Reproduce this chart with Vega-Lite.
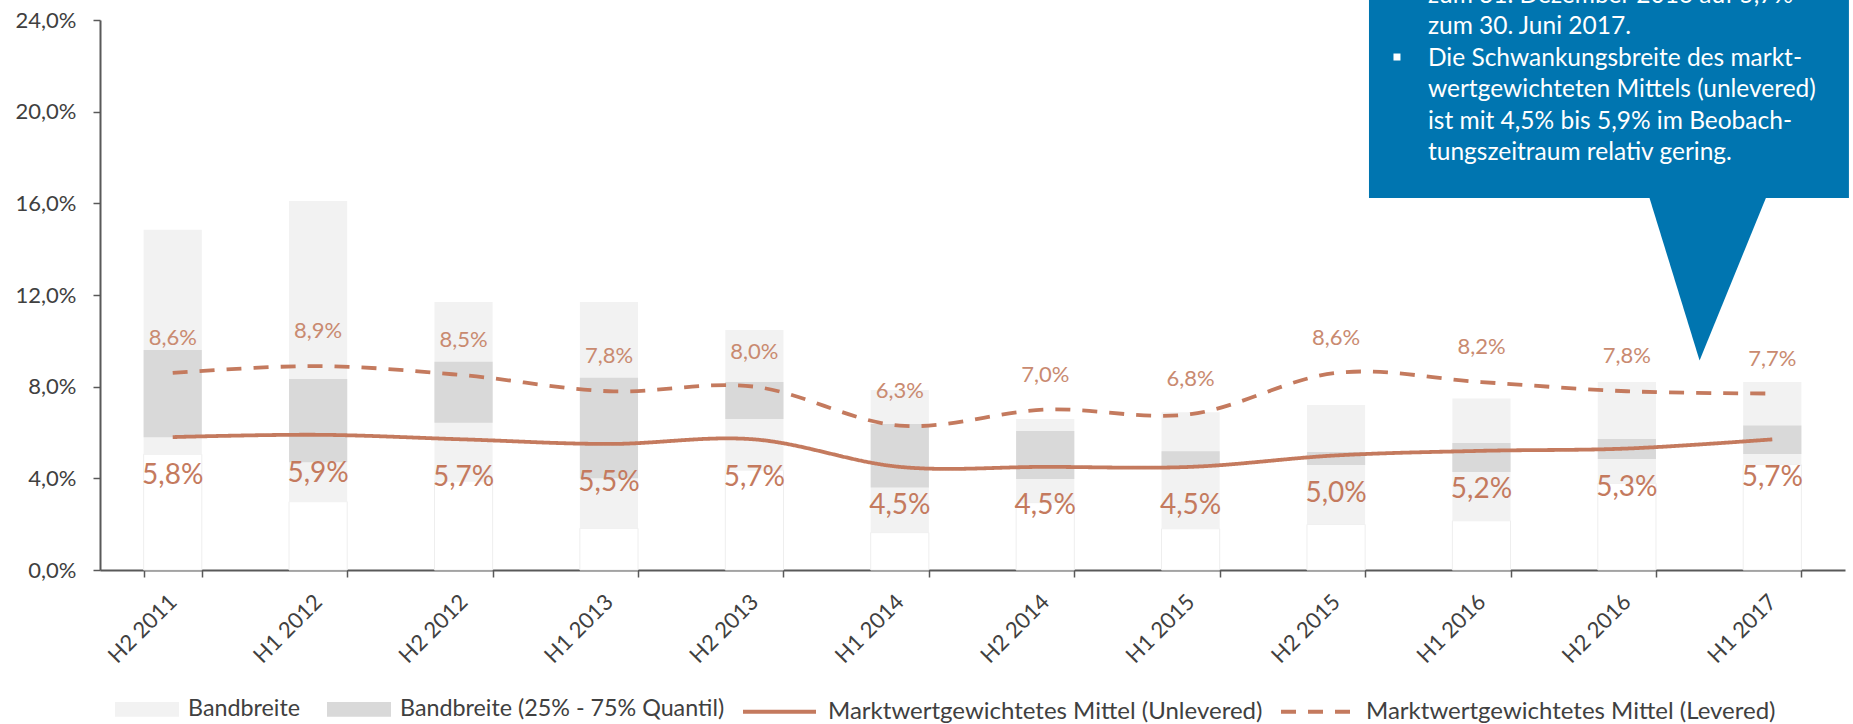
{
  "$schema": "https://vega.github.io/schema/vega-lite/v6.json",
  "width": 1745,
  "height": 550,
  "autosize": {"type": "none"},
  "padding": {"left": 100, "top": 20, "right": 8, "bottom": 154},
  "background": "white",
  "config": {
    "locale": {"number": {"decimal": ",", "thousands": ".", "grouping": [3], "currency": ["", " €"]}},
    "font": "Lato",
    "view": {"stroke": null},
    "axis": {"labelFont": "Lato", "labelColor": "#404040", "domainColor": "#595959", "tickColor": "#595959", "grid": false, "title": null},
    "legend": {"labelFont": "Lato", "labelColor": "#404040", "labelFontSize": 24, "labelLimit": 1000, "padding": 0, "title": null}
  },
  "datasets": {
    "bars": [
      {"p": "H2 2011", "lo": 0.0505, "hi": 0.1485, "q1": 0.0579, "q3": 0.096},
      {"p": "H1 2012", "lo": 0.0298, "hi": 0.161, "q1": 0.047, "q3": 0.0833},
      {"p": "H2 2012", "lo": 0.0388, "hi": 0.117, "q1": 0.0643, "q3": 0.0909},
      {"p": "H1 2013", "lo": 0.0182, "hi": 0.117, "q1": 0.04, "q3": 0.0839},
      {"p": "H2 2013", "lo": 0.0436, "hi": 0.1047, "q1": 0.0659, "q3": 0.082},
      {"p": "H1 2014", "lo": 0.0163, "hi": 0.0785, "q1": 0.036, "q3": 0.0637},
      {"p": "H2 2014", "lo": 0.0294, "hi": 0.0659, "q1": 0.0397, "q3": 0.0607},
      {"p": "H1 2015", "lo": 0.018, "hi": 0.0688, "q1": 0.0448, "q3": 0.0518},
      {"p": "H2 2015", "lo": 0.0199, "hi": 0.072, "q1": 0.0458, "q3": 0.0515},
      {"p": "H1 2016", "lo": 0.0215, "hi": 0.0748, "q1": 0.0428, "q3": 0.0554},
      {"p": "H2 2016", "lo": 0.0378, "hi": 0.082, "q1": 0.0484, "q3": 0.0572},
      {"p": "H1 2017", "lo": 0.046, "hi": 0.082, "q1": 0.0506, "q3": 0.0631}
    ],
    "lines": [
      {"p": "H2 2011", "s": "Marktwertgewichtetes Mittel (Unlevered)", "v": 0.058},
      {"p": "H1 2012", "s": "Marktwertgewichtetes Mittel (Unlevered)", "v": 0.059},
      {"p": "H2 2012", "s": "Marktwertgewichtetes Mittel (Unlevered)", "v": 0.057},
      {"p": "H1 2013", "s": "Marktwertgewichtetes Mittel (Unlevered)", "v": 0.055},
      {"p": "H2 2013", "s": "Marktwertgewichtetes Mittel (Unlevered)", "v": 0.057},
      {"p": "H1 2014", "s": "Marktwertgewichtetes Mittel (Unlevered)", "v": 0.045},
      {"p": "H2 2014", "s": "Marktwertgewichtetes Mittel (Unlevered)", "v": 0.045},
      {"p": "H1 2015", "s": "Marktwertgewichtetes Mittel (Unlevered)", "v": 0.045},
      {"p": "H2 2015", "s": "Marktwertgewichtetes Mittel (Unlevered)", "v": 0.05},
      {"p": "H1 2016", "s": "Marktwertgewichtetes Mittel (Unlevered)", "v": 0.052},
      {"p": "H2 2016", "s": "Marktwertgewichtetes Mittel (Unlevered)", "v": 0.053},
      {"p": "H1 2017", "s": "Marktwertgewichtetes Mittel (Unlevered)", "v": 0.057},
      {"p": "H2 2011", "s": "Marktwertgewichtetes Mittel (Levered)", "v": 0.086},
      {"p": "H1 2012", "s": "Marktwertgewichtetes Mittel (Levered)", "v": 0.089},
      {"p": "H2 2012", "s": "Marktwertgewichtetes Mittel (Levered)", "v": 0.085},
      {"p": "H1 2013", "s": "Marktwertgewichtetes Mittel (Levered)", "v": 0.078},
      {"p": "H2 2013", "s": "Marktwertgewichtetes Mittel (Levered)", "v": 0.08},
      {"p": "H1 2014", "s": "Marktwertgewichtetes Mittel (Levered)", "v": 0.063},
      {"p": "H2 2014", "s": "Marktwertgewichtetes Mittel (Levered)", "v": 0.07},
      {"p": "H1 2015", "s": "Marktwertgewichtetes Mittel (Levered)", "v": 0.068},
      {"p": "H2 2015", "s": "Marktwertgewichtetes Mittel (Levered)", "v": 0.086},
      {"p": "H1 2016", "s": "Marktwertgewichtetes Mittel (Levered)", "v": 0.082},
      {"p": "H2 2016", "s": "Marktwertgewichtetes Mittel (Levered)", "v": 0.078},
      {"p": "H1 2017", "s": "Marktwertgewichtetes Mittel (Levered)", "v": 0.077}
    ],
    "box": [{"x1": 8.7265, "x2": 12.027, "y1": 0.16233, "y2": 0.27}],
    "pointer": [
      {"px": 10.645, "top": 0.1645, "bot": 0.1645},
      {"px": 11.0, "top": 0.1645, "bot": 0.09146},
      {"px": 11.47, "top": 0.1645, "bot": 0.1645}
    ],
    "note": [{"x": 9.132, "y": 0.24742, "bx": 8.919, "by": 0.22385}]
  },
  "layer": [
    {
      "encoding": {
        "x": {
          "field": "p",
          "type": "nominal",
          "sort": null,
          "scale": {
            "domain": ["H2 2011", "H1 2012", "H2 2012", "H1 2013", "H2 2013", "H1 2014", "H2 2014", "H1 2015", "H2 2015", "H1 2016", "H2 2016", "H1 2017"],
            "paddingInner": 0.6,
            "paddingOuter": 0.3
          },
          "axis": {
            "tickBand": "extent",
            "labelAngle": -45,
            "labelAlign": "right",
            "labelBaseline": "middle",
            "labelFontSize": 22,
            "labelPadding": 21,
            "tickSize": 7,
            "tickWidth": 1.5,
            "domainWidth": 2
          }
        }
      },
      "layer": [
        {
          "data": {"name": "bars"},
          "mark": {"type": "bar", "fill": "white", "stroke": "#EEEEEE", "strokeWidth": 1},
          "encoding": {
            "y": {"field": "lo", "type": "quantitative", "scale": {"domain": [0, 0.24], "nice": false},
              "axis": {"values": [0, 0.04, 0.08, 0.12, 0.16, 0.2, 0.24], "format": ".1%", "labelFontSize": 22, "tickSize": 7, "tickWidth": 1.5, "labelPadding": 17, "domainWidth": 2}}
          }
        },
        {
          "data": {"name": "bars"},
          "mark": {"type": "bar"},
          "encoding": {
            "y": {"field": "lo", "type": "quantitative"},
            "y2": {"field": "hi"},
            "fill": {
              "datum": "Bandbreite",
              "type": "nominal",
              "scale": {"domain": ["Bandbreite", "Bandbreite (25% - 75% Quantil)"], "range": ["#F2F2F2", "#D9D9D9"]},
              "legend": {
                "orient": "none",
                "legendX": 15,
                "legendY": 657,
                "direction": "horizontal",
                "symbolType": "M-1,-0.23L1,-0.23L1,0.23L-1,0.23Z",
                "symbolSize": 4096,
                "symbolStrokeWidth": 0,
                "labelFontSize": 23.3,
                "labelOffset": 9,
                "columnPadding": 26
              }
            }
          }
        },
        {
          "data": {"name": "bars"},
          "mark": {"type": "bar"},
          "encoding": {
            "y": {"field": "q1", "type": "quantitative"},
            "y2": {"field": "q3"},
            "fill": {"datum": "Bandbreite (25% - 75% Quantil)", "type": "nominal"}
          }
        },
        {
          "data": {"name": "lines"},
          "mark": {"type": "line", "interpolate": "cardinal", "strokeWidth": 3.8, "color": "#C47A5E"},
          "encoding": {
            "y": {"field": "v", "type": "quantitative"},
            "strokeDash": {
              "field": "s",
              "type": "nominal",
              "scale": {"domain": ["Marktwertgewichtetes Mittel (Unlevered)", "Marktwertgewichtetes Mittel (Levered)"], "range": [[1, 0], [15, 12]]},
              "legend": {
                "orient": "none",
                "legendX": 641,
                "legendY": 653,
                "direction": "horizontal",
                "symbolType": "stroke",
                "symbolSize": 5329,
                "symbolStrokeWidth": 4,
                "symbolStrokeColor": "#C47A5E",
                "labelOffset": 10,
                "columnPadding": 10
              }
            }
          }
        },
        {
          "data": {"name": "lines"},
          "transform": [{"filter": "datum.s == 'Marktwertgewichtetes Mittel (Levered)'"}],
          "mark": {"type": "text", "dy": -35, "fontSize": 22, "color": "#C98A70", "baseline": "middle"},
          "encoding": {
            "y": {"field": "v", "type": "quantitative"},
            "text": {"field": "v", "type": "quantitative", "format": ".1%"}
          }
        },
        {
          "data": {"name": "lines"},
          "transform": [{"filter": "datum.s == 'Marktwertgewichtetes Mittel (Unlevered)'"}],
          "mark": {"type": "text", "dy": 39, "fontSize": 28, "color": "#C47A5E", "baseline": "middle"},
          "encoding": {
            "y": {"field": "v", "type": "quantitative"},
            "text": {"field": "v", "type": "quantitative", "format": ".1%"}
          }
        }
      ]
    },
    {
      "layer": [
        {
          "data": {"name": "box"},
          "mark": {"type": "rect", "color": "#0075B0"},
          "encoding": {
            "x": {"field": "x1", "type": "quantitative", "scale": {"domain": [0, 12], "nice": false, "zero": false}, "axis": null},
            "x2": {"field": "x2"},
            "y": {"field": "y1", "type": "quantitative", "scale": {"domain": [0, 0.24], "nice": false}, "axis": null},
            "y2": {"field": "y2"}
          }
        },
        {
          "data": {"name": "pointer"},
          "mark": {"type": "area", "color": "#0075B0", "interpolate": "linear"},
          "encoding": {
            "x": {"field": "px", "type": "quantitative"},
            "y": {"field": "bot", "type": "quantitative"},
            "y2": {"field": "top"}
          }
        },
        {
          "data": {"name": "note"},
          "mark": {
            "type": "text",
            "align": "left",
            "baseline": "alphabetic",
            "fontSize": 24.5,
            "color": "white",
            "lineHeight": 31.5,
            "text": ["zum 31. Dezember 2016 auf 5,7%", "zum 30. Juni 2017.", "Die Schwankungsbreite des markt-", "wertgewichteten Mittels (unlevered)", "ist mit 4,5% bis 5,9% im Beobach-", "tungszeitraum relativ gering."]
          },
          "encoding": {
            "x": {"field": "x", "type": "quantitative"},
            "y": {"field": "y", "type": "quantitative"}
          }
        },
        {
          "data": {"name": "note"},
          "mark": {"type": "square", "size": 49, "color": "white", "opacity": 1},
          "encoding": {
            "x": {"field": "bx", "type": "quantitative"},
            "y": {"field": "by", "type": "quantitative"}
          }
        }
      ]
    }
  ],
  "resolve": {"scale": {"x": "independent", "y": "independent"}}
}
